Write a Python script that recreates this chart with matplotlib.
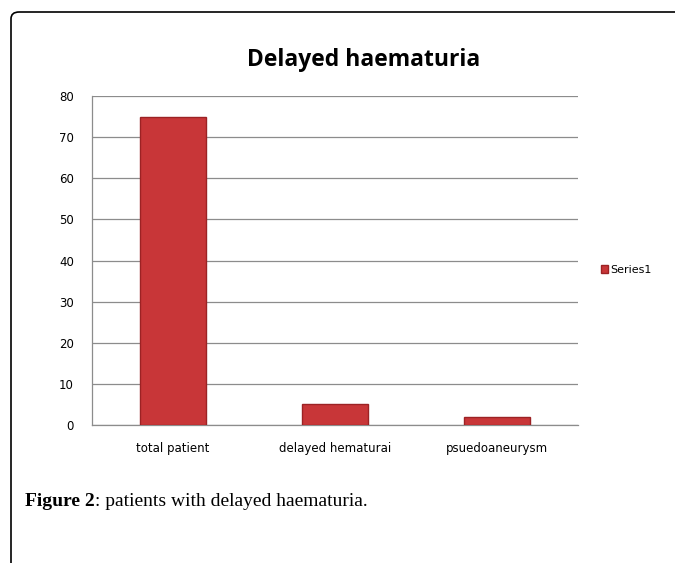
import matplotlib.pyplot as plt
from matplotlib.patches import FancyBboxPatch

categories = ['total patient', 'delayed hematurai', 'psuedoaneurysm']
values = [75, 5, 2]
y_ticks = [0, 10, 20, 30, 40, 50, 60, 70, 80]

W, H = 675, 563
fig = plt.figure(figsize=(W / 100, H / 100), dpi=100)

# outer frame (runs off the right and bottom edges)
frame = FancyBboxPatch((11 / W, -0.2), 1.2, 1.2 - 12 / H,
                       boxstyle='round,pad=0,rounding_size=0.012',
                       transform=fig.transFigure, fill=False,
                       edgecolor='black', linewidth=1.2)
fig.patches.append(frame)

ax = fig.add_axes([92 / W, 1 - 425 / H, (578 - 92) / W, (425 - 96) / H])
ax.bar(categories, values, width=0.41, color='#c83638', edgecolor='#9c2224',
       linewidth=1.0, label='Series1', zorder=3)
ax.set_ylim(0, 80)
ax.set_xlim(-0.5, 2.5)
ax.set_yticks(y_ticks)
ax.yaxis.grid(True, color='#8c8c8c', linewidth=0.9, zorder=0)
for s in ['top', 'right']:
    ax.spines[s].set_visible(False)
for s in ['left', 'bottom']:
    ax.spines[s].set_color('#8c8c8c')
    ax.spines[s].set_linewidth(0.9)
ax.tick_params(length=0, labelsize=8.5, colors='black')
ax.tick_params(axis='x', pad=12)
ax.tick_params(axis='y', pad=13)

fig.text(364 / W, 1 - 60 / H, 'Delayed haematuria', ha='center', va='center',
         fontsize=16.5, fontweight='bold', family='Open Sans')

ax.legend(loc='center left', bbox_to_anchor=(595 / W, 1 - 270 / H),
          bbox_transform=fig.transFigure, frameon=False, fontsize=8,
          handlelength=0.7, handleheight=0.7, handletextpad=0.2, borderpad=0)

t1 = fig.text(25 / W, 1 - 501 / H, 'Figure 2', ha='left', va='center',
              fontsize=14, fontweight='bold', family='Liberation Serif')
fig.canvas.draw()
bb = t1.get_window_extent()
fig.text(bb.x1 / W, 1 - 501 / H, ': patients with delayed haematuria.', ha='left',
         va='center', fontsize=14, family='Liberation Serif')

fig.savefig('out.png', dpi=100)
